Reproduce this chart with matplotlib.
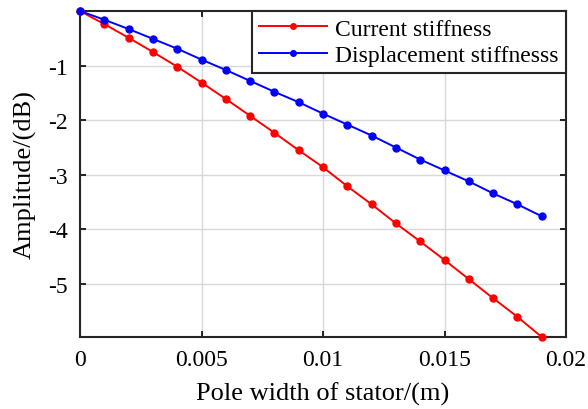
import matplotlib.pyplot as plt
import matplotlib.ticker as ticker

# pole width (m) and amplitude (dB) for both stiffness terms
pole_width = [0.000, 0.001, 0.002, 0.003, 0.004, 0.005, 0.006, 0.007, 0.008, 0.009,
              0.010, 0.011, 0.012, 0.013, 0.014, 0.015, 0.016, 0.017, 0.018, 0.019]
current_stiffness = [0.00, -0.24, -0.49, -0.75, -1.02, -1.31, -1.61, -1.92, -2.23, -2.55,
                     -2.86, -3.21, -3.54, -3.89, -4.22, -4.56, -4.91, -5.26, -5.60, -5.97]
displacement_stiffness = [0.00, -0.16, -0.33, -0.51, -0.69, -0.89, -1.08, -1.28, -1.48, -1.67,
                          -1.88, -2.08, -2.28, -2.50, -2.72, -2.92, -3.12, -3.34, -3.54, -3.76]

xticks = [0, 0.005, 0.01, 0.015, 0.02]
xtick_labels = ['0', '0.005', '0.01', '0.015', '0.02']
yticks = [-5, -4, -3, -2, -1]

plt.rcParams['font.family'] = ['Liberation Serif', 'DejaVu Serif']
plt.rcParams['axes.unicode_minus'] = False

fig = plt.figure(figsize=(5.88, 4.10), dpi=100)
ax = fig.add_axes([80 / 588, 1 - 338 / 410, 486 / 588, 326 / 410])

ax.plot(pole_width, current_stiffness, color='#ff0000', marker='o', markersize=5,
        linewidth=1.4, label='Current stiffness', clip_on=False, zorder=3)
ax.plot(pole_width, displacement_stiffness, color='#0000ff', marker='o', markersize=5,
        linewidth=1.4, label='Displacement stiffnesss', clip_on=False, zorder=3)

ax.set_xlim(0, 0.02)
ax.set_ylim(min(current_stiffness), 0)
ax.set_xticks(xticks)
ax.xaxis.set_major_formatter(ticker.FixedFormatter(xtick_labels))
ax.set_yticks(yticks)

ax.grid(True, color='#d8d8d8', linewidth=1.0)
ax.set_axisbelow(True)
ax.tick_params(direction='in', top=True, right=True, labelsize=17, length=4, width=1.2)
ax.tick_params(axis='y', pad=9)
ax.tick_params(axis='x', pad=9)
for s in ax.spines.values():
    s.set_linewidth(1.5)
    s.set_color('#262626')

ax.set_xlabel('Pole width of stator/(m)', fontsize=19, labelpad=8)
ax.set_ylabel('Amplitude/(dB)', fontsize=19, labelpad=8)

leg = ax.legend(loc='upper right', fontsize=17, frameon=True, fancybox=False,
                edgecolor='#262626', framealpha=1, borderaxespad=0.0,
                handlelength=2.9, handletextpad=0.35, labelspacing=0.22, borderpad=0.3,
                markerscale=0.8)
leg.get_frame().set_linewidth(1.5)

fig.savefig('out.png', dpi=100)
